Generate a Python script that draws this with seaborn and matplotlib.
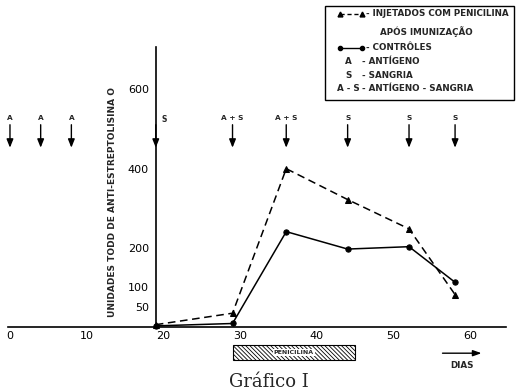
import matplotlib
matplotlib.use("Agg")
import matplotlib.pyplot as plt
import seaborn as sns
import pandas as pd
from matplotlib.patches import Rectangle

# ---- data ----
days = [19, 29, 36, 44, 52, 58]
penicilina = [6, 35, 400, 322, 248, 82]
controles = [3, 9, 241, 197, 203, 113]

event_days = [0, 4, 8, 19, 29, 36, 44, 52, 58]
event_labels = ["A", "A", "A", "S", "A + S", "A + S", "S", "S", "S"]

x_ticks = [0, 10, 20, 30, 40, 50, 60]
y_ticks = [50, 100, 200, 400, 600]

pen_start, pen_end = 29, 45

df = pd.DataFrame({
    "dia": days + days,
    "valor": penicilina + controles,
    "grupo": ["pen"] * len(days) + ["ctrl"] * len(days),
})

sns.set_style("white")
plt.rcParams["font.family"] = ["DejaVu Sans"]
plt.rcParams["hatch.linewidth"] = 0.6

fig = plt.figure(figsize=(5.18, 3.92), dpi=100)
ax = fig.add_axes([0, 0, 1, 1])
ax.set_facecolor("white")

sns.lineplot(data=df, x="dia", y="valor", hue="grupo", style="grupo",
             palette={"pen": "black", "ctrl": "black"},
             markers={"pen": "^", "ctrl": "o"},
             dashes={"pen": (5, 3), "ctrl": ""},
             markersize=3.8, linewidth=1.1, legend=False, ax=ax,
             markeredgecolor="black")

ax.set_xlim(-1.30, 66.2)
ax.set_ylim(-164, 826)

# axes spines
for s in ["top", "right"]:
    ax.spines[s].set_visible(False)
ax.spines["bottom"].set_position(("data", 0))
ax.spines["bottom"].set_bounds(-0.3, 64.6)
ax.spines["left"].set_position(("data", 19))
ax.spines["left"].set_bounds(0, 707)
for s in ["bottom", "left"]:
    ax.spines[s].set_color("black")
    ax.spines[s].set_linewidth(1.2)

ax.set_xticks(x_ticks)
ax.set_xticklabels([str(t) for t in x_ticks], fontsize=8)
ax.set_yticks(y_ticks)
ax.set_yticklabels([str(t) for t in y_ticks], fontsize=8)
ax.tick_params(axis="x", direction="in", length=2, width=0.8, pad=3, colors="black")
ax.tick_params(axis="y", direction="out", length=3, width=0.8, pad=2, colors="black")
ax.set_xlabel("")
ax.set_ylabel("")

# y label
ax.text(13.3, 316, "UNIDADES TODD DE ANTI-ESTREPTOLISINA O", rotation=90,
        ha="center", va="center", fontsize=6.5, fontweight="bold")

# event arrows
for d, lab in zip(event_days, event_labels):
    ax.annotate("", xy=(d, 446), xytext=(d, 518),
                arrowprops=dict(arrowstyle="-|>,head_length=0.5,head_width=0.2",
                                color="black", lw=1.0))
    if d == 19:
        ax.text(d + 0.7, 523, lab, ha="left", va="center", fontsize=5.5,
                fontweight="bold")
    else:
        ax.text(d, 528, lab, ha="center", va="center", fontsize=5.3,
                fontweight="bold")

# penicilina bar
ax.add_patch(Rectangle((pen_start, -83), pen_end - pen_start, 37.5,
                       facecolor="white", edgecolor="black",
                       hatch="\\\\\\\\\\\\\\\\", lw=0.8))
ax.text((pen_start + pen_end) / 2, -64, "PENICILINA", ha="center", va="center",
        fontsize=4.5, fontweight="bold",
        bbox=dict(facecolor="white", edgecolor="none", pad=0.8))

# dias arrow
ax.annotate("", xy=(61.8, -66), xytext=(56.0, -66),
            arrowprops=dict(arrowstyle="-|>,head_length=0.5,head_width=0.18",
                            color="black", lw=1.0))
ax.text(58.9, -96, "DIAS", ha="center", va="center", fontsize=6.3,
        fontweight="bold")

# title
ax.text(33.8, -139, "Gráfico I", ha="center", va="center", fontsize=13,
        family="DejaVu Serif")

# legend box (manual)
def px(x, y):
    return (x - 10) / 7.67, (327 - y) / 0.3958

x0, y0 = px(325, 100)
x1, y1 = px(514, 6)
ax.add_patch(Rectangle((x0, y0), x1 - x0, y1 - y0, facecolor="white",
                       edgecolor="black", lw=1.0, zorder=5))
fs = 6.3
a, b = px(340, 14)
c, _ = px(362, 14)
ax.plot([a, c], [b, b], color="black", ls=(0, (3, 2)), lw=1.0, marker="^",
        markersize=3.5, zorder=6)
t = px(366, 14)
ax.text(t[0], t[1], "- INJETADOS COM PENICILINA", fontsize=fs, va="center",
        fontweight="bold", zorder=6)
t = px(380, 32)
ax.text(t[0], t[1], "APÓS IMUNIZAÇÃO", fontsize=fs, va="center",
        fontweight="bold", zorder=6)
a, b = px(340, 48)
ax.plot([a, c], [b, b], color="black", lw=1.0, marker="o", markersize=3,
        zorder=6)
t = px(366, 48)
ax.text(t[0], t[1], "- CONTRÔLES", fontsize=fs, va="center",
        fontweight="bold", zorder=6)
rows = [(62, "A", "- ANTÍGENO"), (76, "S", "- SANGRIA"),
        (89, "A - S", "- ANTÍGENO - SANGRIA")]
for yy, k, v in rows:
    t = px(348, yy)
    ax.text(t[0], t[1], k, fontsize=fs, va="center", ha="center",
            fontweight="bold", zorder=6)
    t = px(362, yy)
    ax.text(t[0], t[1], v, fontsize=fs, va="center", fontweight="bold",
            zorder=6)

fig.savefig("out.png", dpi=100)
